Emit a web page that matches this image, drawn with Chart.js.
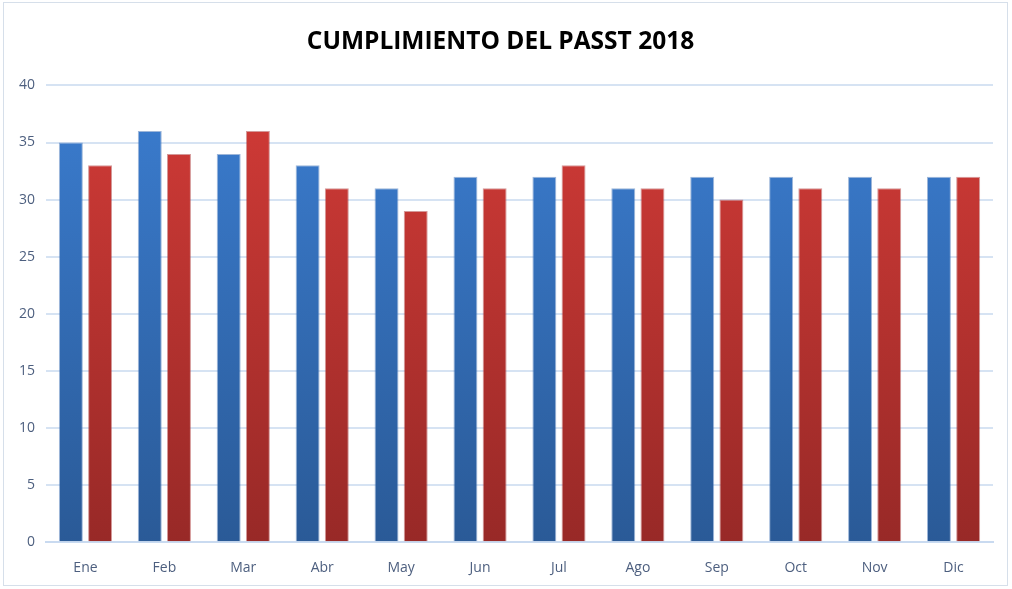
<!DOCTYPE html>
<html>
<head>
<meta charset="utf-8">
<script src="https://cdn.jsdelivr.net/npm/chart.js@4/dist/chart.umd.min.js"></script>
<style>
  html, body { margin: 0; padding: 0; background: #fff; }
  #wrap { position: absolute; left: 3px; top: 2px; width: 1005px; height: 584px; border: 1px solid #d6dfea; box-sizing: border-box; }
</style>
</head>
<body>
<div id="wrap"><canvas id="myChart"></canvas></div>
<script>
const months = ["Ene", "Feb", "Mar", "Abr", "May", "Jun", "Jul", "Ago", "Sep", "Oct", "Nov", "Dic"];
const serieAzul = [35, 36, 34, 33, 31, 32, 32, 31, 32, 32, 32, 32];
const serieRoja = [33, 34, 36, 31, 29, 31, 33, 31, 30, 31, 31, 32];
const yTicks = [0, 5, 10, 15, 20, 25, 30, 35, 40];

function grad(ctx, top, bottom) {
  const area = ctx.chart.chartArea;
  if (!area) return top;
  const g = ctx.chart.ctx.createLinearGradient(0, area.top, 0, area.bottom);
  g.addColorStop(0, top);
  g.addColorStop(1, bottom);
  return g;
}

const font = "'Open Sans', sans-serif";

new Chart(document.getElementById("myChart"), {
  type: "bar",
  data: {
    labels: months,
    datasets: [
      {
        data: serieAzul,
        backgroundColor: (c) => grad(c, "#3b7dd0", "#2a5a97"),
        borderColor: "rgba(60,110,180,0.5)",
        borderWidth: 1,
        barPercentage: 0.82,
        categoryPercentage: 0.74,
      },
      {
        data: serieRoja,
        backgroundColor: (c) => grad(c, "#d23b37", "#982927"),
        borderColor: "rgba(170,50,50,0.5)",
        borderWidth: 1,
        barPercentage: 0.82,
        categoryPercentage: 0.74,
      },
    ],
  },
  options: {
    responsive: true,
    maintainAspectRatio: false,
    animation: false,
    layout: { padding: { left: 4, right: 14, top: 12, bottom: 0 } },
    plugins: {
      legend: { display: false },
      tooltip: { enabled: false },
      title: {
        display: true,
        text: "CUMPLIMIENTO DEL PASST 2018",
        color: "#000",
        font: { family: font, size: 24.5, weight: "bold" },
        padding: { top: 12, bottom: 29 },
      },
    },
    scales: {
      x: {
        grid: { display: false },
        border: { color: "#c9daf0", width: 2 },
        ticks: { color: "#4d5f7f", font: { family: font, size: 14 }, padding: 9 },
      },
      y: {
        min: 0,
        max: 40,
        afterBuildTicks: (axis) => { axis.ticks = yTicks.map((v) => ({ value: v })); },
        grid: { color: "#d6e3f3", lineWidth: 2, drawTicks: false },
        border: { display: false },
        ticks: { color: "#4d5f7f", font: { family: font, size: 14 }, padding: 11 },
      },
    },
  },
});
</script>
</body>
</html>
